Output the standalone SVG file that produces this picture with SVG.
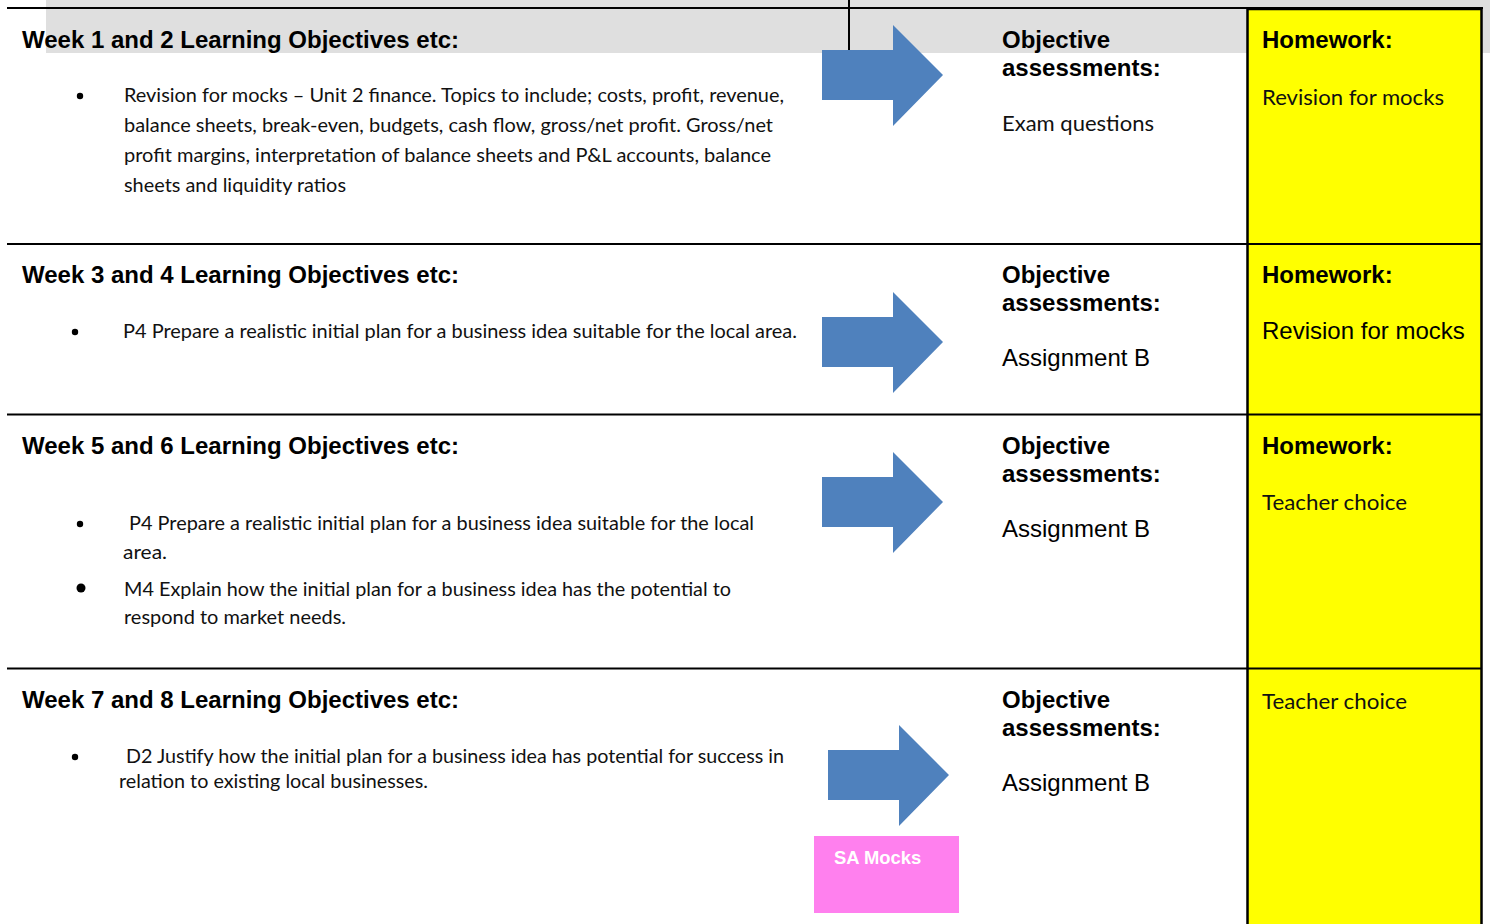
<svg xmlns="http://www.w3.org/2000/svg" width="1490" height="924" viewBox="0 0 1490 924">
<style>
.h{font-family:"Liberation Sans",Arial,sans-serif;font-weight:bold;font-size:24px;fill:#000}
.a{font-family:"Liberation Sans",Arial,sans-serif;font-size:24px;fill:#000}
.b{font-family:Lato,"Noto Sans",sans-serif;font-size:20px;fill:#111}
.c{font-family:Lato,"Noto Sans",sans-serif;font-size:22px;fill:#111}
.rule{stroke:#000;stroke-width:2}
.arrow{fill:#4F81BD}
</style>
<defs>
<polygon id="arr" class="arrow" points="0,25 71,25 71,0 121,50 71,101 71,75 0,75"/>
</defs>
<rect x="0" y="0" width="1490" height="924" fill="#fff"/>
<rect x="46" y="0" width="1444" height="53" fill="#dfdfdf"/>
<rect id="homework-col" x="1247.5" y="9" width="234" height="920" fill="#ffff00" stroke="#000" stroke-width="2.5"/>
<g id="rules">
<line class="rule" x1="7" y1="8" x2="1483" y2="8"/>
<line class="rule" x1="849" y1="0" x2="849" y2="50"/>
<line class="rule" x1="7" y1="244" x2="1482" y2="244"/>
<line class="rule" x1="7" y1="414.5" x2="1482" y2="414.5"/>
<line class="rule" x1="7" y1="668.5" x2="1482" y2="668.5"/>
</g>
<g id="connectors">
<use href="#arr" x="822" y="25"/>
<use href="#arr" x="822" y="292"/>
<use href="#arr" x="822" y="452"/>
<use href="#arr" x="828" y="725"/>
</g>
<g id="week1">
<text class="h" x="22" y="48">Week 1 and 2 Learning Objectives etc:</text>
<circle cx="80" cy="96" r="3.2" fill="#000"/>
<text class="b" x="124" y="102" textLength="660" lengthAdjust="spacingAndGlyphs">Revision for mocks – Unit 2 finance. Topics to include; costs, profit, revenue,</text>
<text class="b" x="124" y="132" textLength="649" lengthAdjust="spacingAndGlyphs">balance sheets, break-even, budgets, cash flow, gross/net profit. Gross/net</text>
<text class="b" x="124" y="162" textLength="647" lengthAdjust="spacingAndGlyphs">profit margins, interpretation of balance sheets and P&amp;L accounts, balance</text>
<text class="b" x="124" y="192" textLength="222" lengthAdjust="spacingAndGlyphs">sheets and liquidity ratios</text>
</g>
<g id="assess1">
<text class="h" x="1002" y="48">Objective</text>
<text class="h" x="1002" y="76">assessments:</text>
<text class="c" x="1002" y="131" textLength="152" lengthAdjust="spacingAndGlyphs">Exam questions</text>
</g>
<g id="homework1">
<text class="h" x="1262" y="48">Homework:</text>
<text class="c" x="1262" y="105" textLength="182" lengthAdjust="spacingAndGlyphs">Revision for mocks</text>
</g>
<g id="week3">
<text class="h" x="22" y="283">Week 3 and 4 Learning Objectives etc:</text>
<circle cx="75" cy="332" r="3.2" fill="#000"/>
<text class="b" x="123" y="338" textLength="674" lengthAdjust="spacingAndGlyphs">P4 Prepare a realistic initial plan for a business idea suitable for the local area.</text>
</g>
<g id="assess2">
<text class="h" x="1002" y="283">Objective</text>
<text class="h" x="1002" y="311">assessments:</text>
<text class="a" x="1002" y="366">Assignment B</text>
</g>
<g id="homework2">
<text class="h" x="1262" y="283">Homework:</text>
<text class="a" x="1262" y="339">Revision for mocks</text>
</g>
<g id="week5">
<text class="h" x="22" y="454">Week 5 and 6 Learning Objectives etc:</text>
<circle cx="80" cy="524" r="3.2" fill="#000"/>
<text class="b" x="129" y="530" textLength="625" lengthAdjust="spacingAndGlyphs">P4 Prepare a realistic initial plan for a business idea suitable for the local</text>
<text class="b" x="123" y="559" textLength="44" lengthAdjust="spacingAndGlyphs">area.</text>
<circle cx="81" cy="588" r="4.5" fill="#000"/>
<text class="b" x="124" y="596" textLength="607" lengthAdjust="spacingAndGlyphs">M4 Explain how the initial plan for a business idea has the potential to</text>
<text class="b" x="124" y="624" textLength="222" lengthAdjust="spacingAndGlyphs">respond to market needs.</text>
</g>
<g id="assess3">
<text class="h" x="1002" y="454">Objective</text>
<text class="h" x="1002" y="482">assessments:</text>
<text class="a" x="1002" y="537">Assignment B</text>
</g>
<g id="homework3">
<text class="h" x="1262" y="454">Homework:</text>
<text class="c" x="1262" y="510" textLength="145" lengthAdjust="spacingAndGlyphs">Teacher choice</text>
</g>
<g id="week7">
<text class="h" x="22" y="708">Week 7 and 8 Learning Objectives etc:</text>
<circle cx="75" cy="757" r="3.2" fill="#000"/>
<text class="b" x="126" y="763" textLength="658" lengthAdjust="spacingAndGlyphs">D2 Justify how the initial plan for a business idea has potential for success in</text>
<text class="b" x="119" y="788" textLength="309" lengthAdjust="spacingAndGlyphs">relation to existing local businesses.</text>
</g>
<g id="assess4">
<text class="h" x="1002" y="708">Objective</text>
<text class="h" x="1002" y="736">assessments:</text>
<text class="a" x="1002" y="791">Assignment B</text>
</g>
<g id="homework4">
<text class="c" x="1262" y="709" textLength="145" lengthAdjust="spacingAndGlyphs">Teacher choice</text>
</g>
<g id="sa-mocks">
<rect x="814" y="836" width="145" height="77" fill="#ff80ee"/>
<text x="834" y="864" font-family="Liberation Sans, Arial, sans-serif" font-weight="bold" font-size="18.4" fill="#fff">SA Mocks</text>
</g>
</svg>
